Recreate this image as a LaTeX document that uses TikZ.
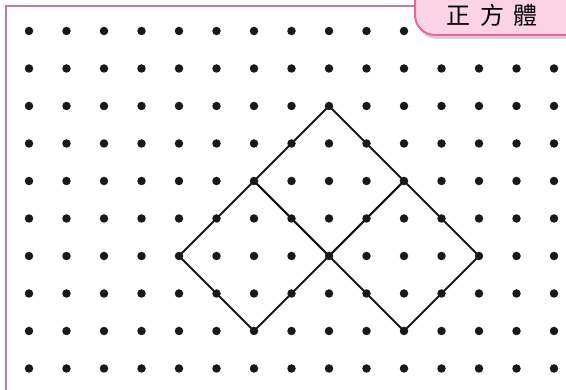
\documentclass[tikz,border=0pt]{standalone}
\usepackage{fontspec}
\newfontfamily\cjk{Noto Sans CJK TC}
\usetikzlibrary{%
    positioning,
    shadows
}
\definecolor{framecol}{HTML}{C47A9C}
\definecolor{tagline}{HTML}{E8679C}
\definecolor{tagfill}{HTML}{FAD4E4}
\tikzset{gdot/.style = {circle,fill=black!90,inner sep=0pt,minimum size=8.5pt}}
\tikzset{edge/.style = {line width=1.9pt,black!90,line join=round}}
\tikzset{tagbox/.style = {draw=tagline,fill=tagfill,line width=2pt,rounded corners=20pt,
    drop shadow={shadow xshift=2pt,shadow yshift=-4pt,fill=black!35}}}

\begin{document}
\begin{tikzpicture}[x=1pt,y=-1pt]
    \useasboundingbox (0,0) rectangle (566,390);
    \fill[white] (0,0) rectangle (566,390);

    % frame
    \draw[framecol,line width=2.5pt] (6,400) -- (6,6) -- (420,6);

    % dot grid
    \foreach \j in {0,...,9}{
        \foreach \i in {0,...,14}{
            \node[gdot] (d-\i-\j) at ({29+37.5*\i},{31+37.5*\j}) {};
        }
    }

    % title tag
    \draw[tagbox] (415,35) rectangle (640,-30);
    \node (title) at (492,15) {\cjk\fontsize{24}{24}\selectfont 正\hspace{10pt}方\hspace{9pt}體};

    % squares
    \draw[edge] (d-8-2.center) -- (d-10-4.center) -- (d-8-6.center) -- (d-6-4.center) -- (d-8-2.center);
    \draw[edge] (d-6-4.center) -- (d-8-6.center) -- (d-6-8.center) -- (d-4-6.center) -- (d-6-4.center);
    \draw[edge] (d-10-4.center) -- (d-12-6.center) -- (d-10-8.center) -- (d-8-6.center) -- (d-10-4.center);
\end{tikzpicture}
\end{document}
